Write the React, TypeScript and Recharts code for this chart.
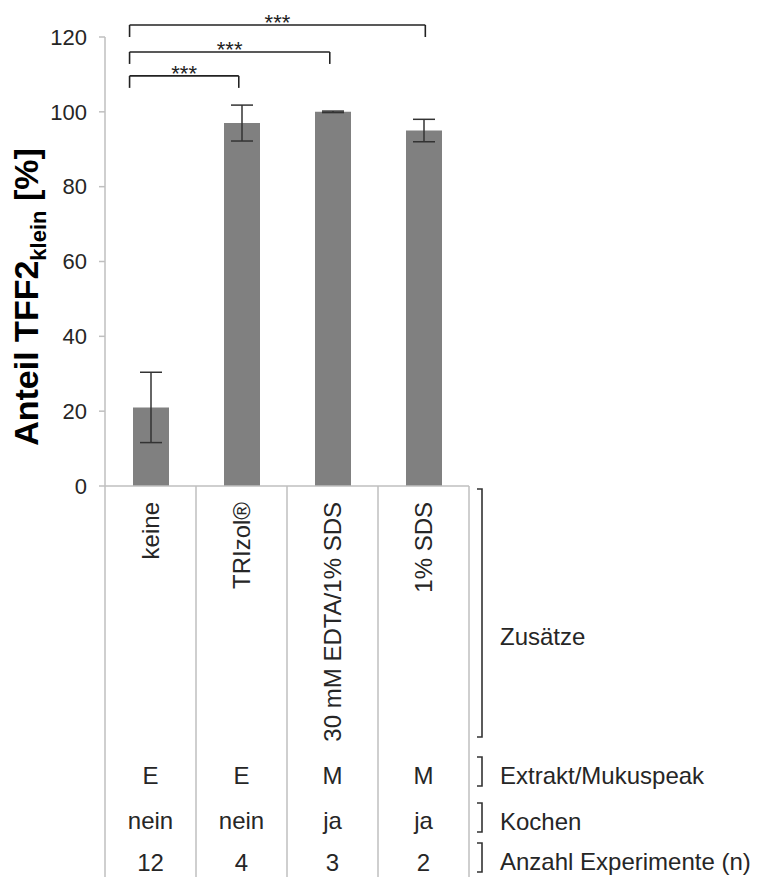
import React from 'react';
import { BarChart, Bar, XAxis, YAxis, ErrorBar, ReferenceLine, Customized } from 'recharts';

const categories = ['keine', 'TRIzol®', '30 mM EDTA/1% SDS', '1% SDS'];
const values = [21, 97, 100, 95];
const errors = [9.4, 4.8, 0.2, 3];
const extrakt = ['E', 'E', 'M', 'M'];
const kochen = ['nein', 'nein', 'ja', 'ja'];
const anzahl = ['12', '4', '3', '2'];
const yTicks = [0, 20, 40, 60, 80, 100, 120];
// significance comparisons: [from index, to index, label, bracket top value, leg bottom value]
const sigPairs: [number, number, string, number, number][] = [
  [0, 1, '***', 109.6, 106.4],
  [0, 2, '***', 116, 112.8],
  [0, 3, '***', 123.2, 120],
];
const rowLabels = ['Zusätze', 'Extrakt/Mukuspeak', 'Kochen', 'Anzahl Experimente (n)'];

const data = categories.map((name, i) => ({ name, pos: i + 0.5, value: values[i], err: errors[i] }));

const W = 758;
const H = 877;
const PLOT_LEFT = 105;
const PLOT_RIGHT = 469;
const PLOT_TOP = 37;
const PLOT_BOTTOM = 486;
const HALF = (PLOT_RIGHT - PLOT_LEFT) / categories.length / 2;
const FONT = '"Liberation Sans", Arial, sans-serif';
const TEXT = '#262626';
const GRID = '#bfbfbf';

const TableTick = (props: any) => {
  const { x, payload } = props;
  const i = categories.indexOf(payload.value);
  const last = i === categories.length - 1;
  return (
    <g>
      <line x1={x - HALF} y1={PLOT_BOTTOM} x2={x - HALF} y2={H} stroke={GRID} strokeWidth={1.5} />
      {last && <line x1={x + HALF} y1={PLOT_BOTTOM} x2={x + HALF} y2={H} stroke={GRID} strokeWidth={1.5} />}
      <text
        transform={`translate(${x + 8.5}, 502) rotate(-90)`}
        textAnchor="end"
        fontSize={24}
        fontFamily={FONT}
        fill={TEXT}
      >
        {payload.value}
      </text>
      <text x={x} y={784} textAnchor="middle" fontSize={24} fontFamily={FONT} fill={TEXT}>{extrakt[i]}</text>
      <text x={x} y={829} textAnchor="middle" fontSize={24} fontFamily={FONT} fill={TEXT}>{kochen[i]}</text>
      <text x={x} y={871} textAnchor="middle" fontSize={24} fontFamily={FONT} fill={TEXT}>{anzahl[i]}</text>
    </g>
  );
};

const RightSide = () => {
  const bx = 482;
  const bl = 477;
  const brackets = [
    [489, 737],
    [757, 786],
    [803, 832],
    [843, 872],
  ];
  const labelY = [645, 784, 830, 870];
  return (
    <g>
      {brackets.map(([a, b], k) => (
        <path key={k} d={`M${bl},${a} H${bx} V${b} H${bl}`} fill="none" stroke="#333" strokeWidth={1.6} />
      ))}
      {rowLabels.map((t, k) => (
        <text key={t} x={500} y={labelY[k]} fontSize={24} fontFamily={FONT} fill={TEXT}>{t}</text>
      ))}
      <text
        transform={`translate(38, 297) rotate(-90)`}
        textAnchor="middle"
        fontSize={34}
        fontWeight="bold"
        fontFamily={FONT}
        fill="#000"
      >
        Anteil TFF2<tspan fontSize={22} dy={8}>klein</tspan>
        <tspan dy={-8}> [%]</tspan>
      </text>
    </g>
  );
};

export default function App() {
  return (
    <div style={{ position: 'absolute', left: 0, top: 0, width: W, height: H, background: '#fff' }}>
      <BarChart
        width={W}
        height={H}
        data={data}
        margin={{ top: PLOT_TOP, right: W - PLOT_RIGHT, left: 0, bottom: 0 }}
      >
        <XAxis
          dataKey="name"
          height={H - PLOT_BOTTOM}
          axisLine={{ stroke: GRID, strokeWidth: 1.5 }}
          tickLine={false}
          tick={<TableTick />}
          interval={0}
        />
        <XAxis
          xAxisId="num"
          dataKey="pos"
          type="number"
          domain={[0, categories.length]}
          allowDataOverflow
          hide
        />
        <YAxis
          width={PLOT_LEFT}
          domain={[0, 120]}
          ticks={yTicks}
          interval={0}
          axisLine={{ stroke: GRID, strokeWidth: 1.5 }}
          tickLine={{ stroke: GRID, strokeWidth: 1.5 }}
          tickSize={6}
          tickMargin={12}
          tick={{ fontSize: 22, fontFamily: FONT, fill: TEXT }}
        />
        <Bar dataKey="value" fill="#808080" barSize={36} isAnimationActive={false}>
          <ErrorBar dataKey="err" width={11} stroke="#333" strokeWidth={1.5} isAnimationActive={false} />
        </Bar>
        {sigPairs.map(([a, b, lab, top, leg], k) => {
          const xa = a + 0.27;
          const xb = b === categories.length - 1 ? b + 0.52 : b + 0.47;
          return (
            <React.Fragment key={k}>
              <ReferenceLine
                xAxisId="num"
                ifOverflow="visible"
                segment={[{ x: xa, y: leg }, { x: xa, y: top }]}
                stroke="#222"
                strokeWidth={1.6}
              />
              <ReferenceLine
                xAxisId="num"
                ifOverflow="visible"
                segment={[{ x: xa, y: top }, { x: xb, y: top }]}
                stroke="#222"
                strokeWidth={1.6}
                label={{ value: lab, position: 'top', offset: -5, fontSize: 22, fontFamily: FONT, fill: '#222' }}
              />
              <ReferenceLine
                xAxisId="num"
                ifOverflow="visible"
                segment={[{ x: xb, y: top }, { x: xb, y: leg }]}
                stroke="#222"
                strokeWidth={1.6}
              />
            </React.Fragment>
          );
        })}
        <Customized component={RightSide} />
      </BarChart>
    </div>
  );
}
